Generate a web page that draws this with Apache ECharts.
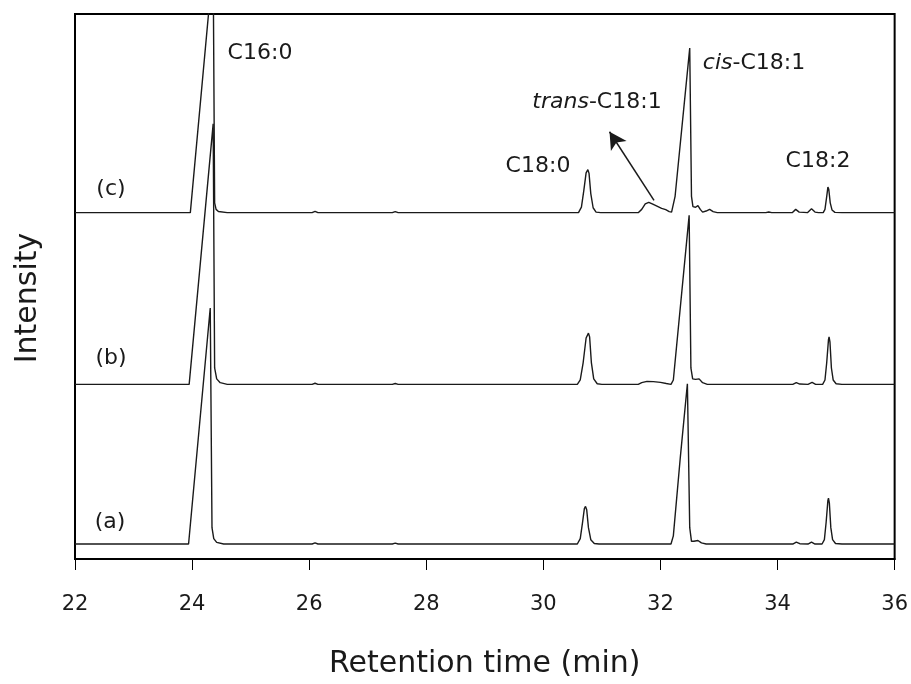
<!DOCTYPE html>
<html>
<head>
<meta charset="utf-8">
<script src="https://cdn.jsdelivr.net/npm/echarts@6/dist/echarts.min.js"></script>
<style>
  html, body { margin: 0; padding: 0; background: #fff; }
  #chart { width: 911px; height: 684px; }
</style>
</head>
<body>
<div id="chart"></div>
<script>
// Retention-time axis ticks (min)
const xTicks = [22, 24, 26, 28, 30, 32, 34, 36];

// Chromatogram traces: [retention time (min), detector response (a.u.)] above each baseline
const traceA = [
  [22, 0], [23.94, 0], [24.31, 43.3], [24.34, 3.0], [24.37, 1.0], [24.42, 0.3], [24.54, 0],
  [26.05, 0], [26.1, 0.2], [26.15, 0], [27.42, 0], [27.47, 0.15], [27.52, 0],
  [30.58, 0], [30.63, 1.0], [30.67, 4.0], [30.70, 6.5], [30.72, 6.9], [30.74, 6.3], [30.77, 3.0], [30.81, 0.8], [30.87, 0.1], [30.95, 0],
  [32.18, 0], [32.22, 1.5], [32.34, 16.0], [32.46, 29.4], [32.50, 3.0], [32.53, 0.5], [32.57, 0.5], [32.64, 0.65], [32.70, 0.2], [32.78, 0],
  [34.26, 0], [34.32, 0.35], [34.38, 0.05], [34.52, 0], [34.58, 0.35], [34.64, 0],
  [34.76, 0], [34.80, 0.8], [34.83, 4.0], [34.86, 8.0], [34.87, 8.4], [34.885, 7.5], [34.91, 3.0], [34.94, 0.8], [34.99, 0.1], [35.1, 0], [36, 0]
];
const traceB = [
  [22, 0], [23.95, 0], [24.36, 47.8], [24.385, 3.0], [24.42, 1.0], [24.48, 0.3], [24.6, 0],
  [26.05, 0], [26.1, 0.2], [26.15, 0], [27.42, 0], [27.47, 0.15], [27.52, 0],
  [30.58, 0], [30.63, 0.8], [30.68, 4.0], [30.73, 8.5], [30.77, 9.4], [30.79, 8.7], [30.82, 4.0], [30.86, 1.0], [30.92, 0.1], [31.0, 0],
  [31.62, 0], [31.68, 0.3], [31.77, 0.55], [31.88, 0.5], [32.0, 0.35], [32.1, 0.15], [32.18, 0],
  [32.20, 0], [32.22, 0.8], [32.49, 31.0], [32.52, 3.0], [32.55, 1.0], [32.60, 0.9], [32.66, 1.0], [32.72, 0.3], [32.8, 0],
  [34.26, 0], [34.32, 0.3], [34.38, 0.05], [34.52, 0], [34.59, 0.35], [34.65, 0],
  [34.77, 0], [34.81, 0.8], [34.84, 4.0], [34.87, 8.2], [34.88, 8.7], [34.895, 7.8], [34.92, 3.0], [34.95, 0.8], [35.0, 0.1], [35.1, 0], [36, 0]
];
const traceC = [
  [22, 0], [23.97, 0], [24.36, 45.8], [24.385, 1.8], [24.41, 0.6], [24.45, 0.2], [24.6, 0],
  [26.05, 0], [26.1, 0.25], [26.15, 0], [27.42, 0], [27.47, 0.2], [27.52, 0],
  [30.60, 0], [30.65, 1.0], [30.69, 4.0], [30.73, 7.3], [30.76, 7.9], [30.78, 7.2], [30.81, 3.5], [30.85, 0.9], [30.9, 0.1], [30.98, 0],
  [31.62, 0], [31.68, 0.6], [31.74, 1.6], [31.80, 1.9], [31.86, 1.6], [31.94, 1.2], [32.02, 0.8], [32.09, 0.55], [32.15, 0.2], [32.19, 0.1],
  [32.21, 0.3], [32.25, 3.0], [32.50, 30.2], [32.53, 3.0], [32.555, 1.1], [32.60, 1.0], [32.64, 1.3], [32.68, 0.6], [32.72, 0.1], [32.78, 0.3], [32.84, 0.6], [32.90, 0.2], [32.97, 0],
  [33.8, 0], [33.85, 0.12], [33.9, 0],
  [34.25, 0], [34.31, 0.6], [34.37, 0.1], [34.45, 0.05], [34.51, 0], [34.58, 0.7], [34.64, 0.1], [34.70, 0],
  [34.78, 0], [34.81, 0.6], [34.84, 3.0], [34.86, 4.7], [34.875, 4.3], [34.90, 1.8], [34.93, 0.5], [34.98, 0.05], [35.1, 0], [36, 0]
];

// Vertical stacking offsets of the three samples
const traceNames = ['(a)', '(b)', '(c)'];
const traceOffsets = [2.75, 32.05, 63.55];
const traces = [traceA, traceB, traceC];

// Peak labels: [text, x centre px, y centre px]
const peakLabels = [
  ['C16:0', 260, 53],
  ['C18:0', 538, 166],
  ['{i|trans}-C18:1', 597, 102],
  ['{i|cis}-C18:1', 754, 63],
  ['C18:2', 818, 161]
];
const sampleLabelPos = [[110, 522], [111, 358], [111, 189]];

// Arrow pointing at the trans-C18:1 shoulder: [tail, head] in data coordinates
const arrowTail = [31.89, 65.8];
const arrowHead = [31.13, 78.4];

const FONT = 'DejaVu Sans';
const INK = '#1a1a1a';

const chart = echarts.init(document.getElementById('chart'), null, { renderer: 'canvas' });

const series = traces.map((tr, i) => ({
  name: traceNames[i],
  type: 'line',
  data: tr.map(([t, v]) => [t, v + traceOffsets[i]]),
  showSymbol: false,
  symbol: 'none',
  clip: true,
  lineStyle: { color: INK, width: 1.4 },
  emphasis: { disabled: true },
  z: 3
}));

series[2].markLine = {
  silent: true,
  symbol: ['none', 'arrow'],
  symbolSize: [14, 17],
  lineStyle: { color: INK, width: 1.5, type: 'solid' },
  label: { show: false },
  data: [[{ coord: arrowTail }, { coord: arrowHead }]]
};

const graphics = [];
peakLabels.forEach(([txt, x, y]) => {
  graphics.push({
    type: 'text', x: x, y: y, z: 10,
    style: {
      text: txt, fill: INK, font: '22px "' + FONT + '"',
      textAlign: 'center', textVerticalAlign: 'middle',
      rich: { i: { fontStyle: 'italic', fontSize: 22, fontFamily: FONT, fill: INK } }
    }
  });
});
sampleLabelPos.forEach(([x, y], i) => {
  graphics.push({
    type: 'text', x: x, y: y, z: 10,
    style: {
      text: traceNames[i], fill: INK, font: '22px "' + FONT + '"',
      textAlign: 'center', textVerticalAlign: 'middle'
    }
  });
});
// Vertical axis title
graphics.push({
  type: 'text', x: 28, y: 298, rotation: Math.PI / 2, z: 10,
  style: {
    text: 'Intensity', fill: INK, font: '30px "' + FONT + '"',
    textAlign: 'center', textVerticalAlign: 'middle'
  }
});

chart.setOption({
  animation: false,
  backgroundColor: '#fff',
  grid: {
    left: 75, right: 16, top: 14, bottom: 124,
    show: true, borderColor: '#000', borderWidth: 2, backgroundColor: 'transparent'
  },
  xAxis: {
    type: 'value', min: 22, max: 36, interval: 2,
    name: 'Retention time (min)', nameLocation: 'middle', nameGap: 90,
    nameTextStyle: { fontFamily: FONT, fontSize: 30, color: INK },
    axisLine: { show: true, onZero: false, lineStyle: { color: '#000', width: 2 } },
    axisTick: { show: true, inside: false, length: 11, lineStyle: { color: '#000', width: 1 } },
    axisLabel: {
      fontFamily: FONT, fontSize: 21, color: INK, margin: 35,
      customValues: xTicks,
      formatter: v => String(v)
    },
    splitLine: { show: false }
  },
  yAxis: {
    type: 'value', min: 0, max: 100,
    axisLine: { show: true, lineStyle: { color: '#000', width: 2 } },
    axisTick: { show: false },
    axisLabel: { show: false },
    splitLine: { show: false }
  },
  series: series,
  graphic: graphics
});
</script>
</body>
</html>
